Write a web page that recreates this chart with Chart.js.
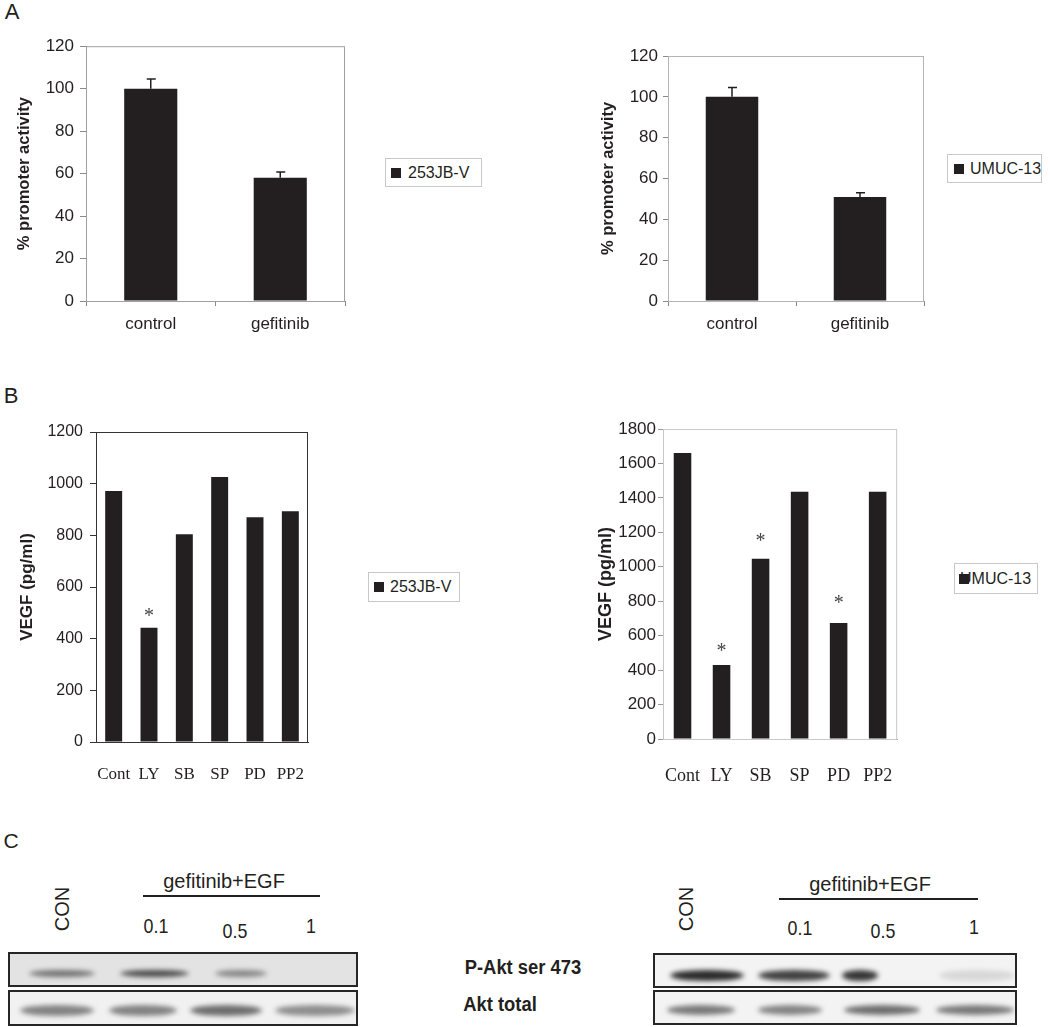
<!DOCTYPE html>
<html>
<head>
<meta charset="utf-8">
<script src="https://cdn.jsdelivr.net/npm/chart.js@4.4.1/dist/chart.umd.min.js"></script>
<style>
  body { margin: 0; background: #fff; font-family: "Liberation Sans", Arial, sans-serif; color: #231f20; }
  #page { position: relative; width: 1050px; height: 1027px; overflow: hidden; }
  canvas { position: absolute; }
  .txt { position: absolute; white-space: nowrap; line-height: 1; transform: translate(-50%, -50%); }
  .legend { position: absolute; border: 1px solid #c8c8c8; background: #fff; box-sizing: border-box; }
  .legend .sw { position: absolute; width: 10px; height: 10px; background: #231f20; z-index: 2; }
  .legend .tx { position: absolute; white-space: nowrap; line-height: 1; font-size: 16px; transform: translateY(-50%); }
  .blot { position: absolute; border: 2px solid #262626; box-sizing: border-box; overflow: hidden; }
  .band { position: absolute; border-radius: 50%; filter: blur(2.5px); }
  .rule { position: absolute; height: 2px; background: #231f20; }
</style>
</head>
<body>
<div id="page"></div>
<script>
// ---- data ----
const promoterLabels = ['control', 'gefitinib'];
const promoter253 = [100, 58];
const promoter253Err = [4.6, 2.8];
const promoterUmuc = [100, 51];
const promoterUmucErr = [4.6, 2];
const promoterTicks = [0, 120, 20];

const inhibitorLabels = ['Cont', 'LY', 'SB', 'SP', 'PD', 'PP2'];
const vegf253 = [972, 442, 804, 1026, 870, 893];
const vegf253Star = [null, 505, null, null, null, null];
const vegf253Ticks = [0, 1200, 200];
const vegfUmuc = [1660, 430, 1047, 1436, 674, 1436];
const vegfUmucStar = [null, 534, 1173, null, 813, null];
const vegfUmucTicks = [0, 1800, 200];

// western blot band intensities (0..1), lanes CON, 0.1, 0.5, 1
const doseLabels = ['0.1', '0.5', '1'];
const pAkt253 = [0.55, 0.75, 0.45, 0];
const akt253 = [0.5, 0.5, 0.6, 0.45];
const pAktUmuc = [0.9, 0.8, 0.85, 0.12];
const aktUmuc = [0.55, 0.5, 0.6, 0.55];

const ink = '#231f20';
const page = document.getElementById('page');

function addText(str, x, y, css) {
  const d = document.createElement('div');
  d.className = 'txt';
  d.textContent = str;
  d.style.left = x + 'px';
  d.style.top = y + 'px';
  Object.assign(d.style, css || {});
  page.appendChild(d);
  return d;
}

function addLegend(name, box, swX, txX) {
  const lg = document.createElement('div');
  lg.className = 'legend';
  Object.assign(lg.style, { left: box[0] + 'px', top: box[1] + 'px', width: box[2] + 'px', height: box[3] + 'px' });
  const tx = document.createElement('div');
  tx.className = 'tx';
  tx.textContent = name;
  tx.style.left = txX + 'px';
  tx.style.top = (box[3] / 2 - 1) + 'px';
  const sw = document.createElement('div');
  sw.className = 'sw';
  sw.style.left = swX + 'px';
  sw.style.top = (box[3] / 2 - 6) + 'px';
  lg.appendChild(tx);
  lg.appendChild(sw);
  page.appendChild(lg);
}

// error bars, stars and the plot frame
const extras = {
  id: 'extras',
  beforeDatasetsDraw(chart, args, opts) {
    const a = chart.chartArea, ctx = chart.ctx;
    ctx.save();
    ctx.strokeStyle = opts.frame;
    ctx.lineWidth = 1;
    ctx.strokeRect(a.left + 0.5, a.top + 0.5, a.right - a.left - 1, a.bottom - a.top);
    ctx.restore();
  },
  afterDatasetsDraw(chart, args, opts) {
    const ctx = chart.ctx, y = chart.scales.y;
    const meta = chart.getDatasetMeta(0);
    const vals = chart.data.datasets[0].data;
    ctx.save();
    if (opts.errors) {
      ctx.strokeStyle = ink;
      ctx.lineWidth = 1.5;
      opts.errors.forEach((e, i) => {
        const bar = meta.data[i];
        const top = y.getPixelForValue(vals[i] + e);
        ctx.beginPath();
        ctx.moveTo(bar.x, bar.y);
        ctx.lineTo(bar.x, top);
        ctx.moveTo(bar.x - 4, top);
        ctx.lineTo(bar.x + 5, top);
        ctx.stroke();
      });
    }
    if (opts.stars) {
      ctx.fillStyle = '#444';
      ctx.font = '20px "Liberation Serif"';
      ctx.textAlign = 'center';
      ctx.textBaseline = 'alphabetic';
      opts.stars.forEach((s, i) => {
        if (s == null) return;
        ctx.fillText('*', meta.data[i].x, y.getPixelForValue(s) + 10);
      });
    }
    ctx.restore();
  }
};

function makeChart(L) {
  const c = document.createElement('canvas');
  c.width = L.w; c.height = L.h;
  c.style.left = L.left + 'px';
  c.style.top = L.top + 'px';
  page.appendChild(c);
  return new Chart(c, {
    type: 'bar',
    data: {
      labels: L.labels,
      datasets: [{
        data: L.values,
        backgroundColor: ink,
        borderWidth: 0,
        barPercentage: L.barPct,
        categoryPercentage: 1
      }]
    },
    options: {
      responsive: false,
      animation: false,
      layout: { padding: { top: L.padTop, right: L.padRight, left: 0, bottom: 0 } },
      plugins: {
        legend: { display: false },
        tooltip: { enabled: false },
        extras: { errors: L.errors, stars: L.stars, frame: L.frame }
      },
      scales: {
        x: {
          offset: true,
          grid: { drawOnChartArea: false, drawTicks: L.xTicks, tickLength: 5, offset: true, color: L.axis },
          border: { color: L.axis },
          ticks: { color: ink, font: L.xFont, padding: L.xPad, maxRotation: 0, autoSkip: false },
          afterFit: s => { s.height = L.xHeight; }
        },
        y: {
          min: L.ticks[0], max: L.ticks[1],
          ticks: { stepSize: L.ticks[2], color: ink, font: L.yFont, padding: L.yPad, callback: v => String(v) },
          grid: { drawOnChartArea: false, tickLength: L.yTickLen, color: L.axis },
          border: { color: L.axis },
          title: {
            display: true, text: L.yTitle, color: ink,
            font: { family: '"Liberation Sans"', size: L.titleSize, weight: 'bold' },
            padding: { top: L.titlePad, bottom: 0 }
          },
          afterFit: s => { s.width = L.yWidth; }
        }
      }
    },
    plugins: [extras]
  });
}

const sans17 = { family: '"Liberation Sans"', size: 17 };
const serif17 = { family: '"Liberation Serif"', size: 17 };
const serif18 = { family: '"Liberation Serif"', size: 18 };

// ---- panel A ----
addText('A', 12, 12, { fontSize: '22px' });
makeChart({
  left: 0, top: 30, w: 360, h: 310, padTop: 13, padRight: 15, yWidth: 86, xHeight: 39,
  labels: promoterLabels, values: promoter253, errors: promoter253Err, ticks: promoterTicks,
  barPct: 0.41, axis: '#8a8a8a', frame: '#a0a0a0', xTicks: true, xFont: sans17, xPad: 8,
  yFont: sans17, yPad: 6, yTickLen: 6, yTitle: '% promoter activity', titleSize: 16.5, titlePad: 15
});
addLegend('253JB-V', [385, 158, 97, 29], 5, 22);

makeChart({
  left: 560, top: 30, w: 380, h: 310, padTop: 26, padRight: 16, yWidth: 108, xHeight: 39,
  labels: promoterLabels, values: promoterUmuc, errors: promoterUmucErr, ticks: promoterTicks,
  barPct: 0.41, axis: '#8a8a8a', frame: '#b4b4b4', xTicks: true, xFont: sans17, xPad: 8,
  yFont: sans17, yPad: 5, yTickLen: 5, yTitle: '% promoter activity', titleSize: 16.5, titlePad: 39
});
addLegend('UMUC-13', [947, 154, 95, 29], 6, 22);

// ---- panel B ----
addText('B', 11, 396, { fontSize: '22px' });
makeChart({
  left: 0, top: 410, w: 330, h: 380, padTop: 22, padRight: 22, yWidth: 96, xHeight: 48,
  labels: inhibitorLabels, values: vegf253, stars: vegf253Star, ticks: vegf253Ticks,
  barPct: 0.48, axis: '#333', frame: '#333', xTicks: false, xFont: serif17, xPad: 22,
  yFont: { family: '"Liberation Sans"', size: 16 }, yPad: 7, yTickLen: 6,
  yTitle: 'VEGF (pg/ml)', titleSize: 17, titlePad: 17
});
addLegend('253JB-V', [368, 572, 92, 30], 5, 21);

makeChart({
  left: 560, top: 410, w: 360, h: 380, padTop: 19, padRight: 22, yWidth: 103, xHeight: 51,
  labels: inhibitorLabels, values: vegfUmuc, stars: vegfUmucStar, ticks: vegfUmucTicks,
  barPct: 0.45, axis: '#999', frame: '#c8c8c8', xTicks: false, xFont: serif18, xPad: 26,
  yFont: { family: '"Liberation Sans"', size: 17 }, yPad: 2, yTickLen: 5,
  yTitle: 'VEGF (pg/ml)', titleSize: 18, titlePad: 35
});
addLegend('UMUC-13', [954, 563, 84, 31], 4, 5);

// ---- panel C: western blots ----
addText('C', 11, 840, { fontSize: '21px' });

function addBlot(box, bg, lanes, levels, bandY, bandH) {
  const b = document.createElement('div');
  b.className = 'blot';
  Object.assign(b.style, { left: box[0] + 'px', top: box[1] + 'px', width: box[2] + 'px', height: box[3] + 'px', background: bg });
  levels.forEach((v, i) => {
    if (!v) return;
    const band = document.createElement('div');
    band.className = 'band';
    const [cx, w] = lanes[i];
    Object.assign(band.style, {
      left: (cx - w / 2 - box[0]) + 'px', width: w + 'px',
      top: (bandY - bandH / 2 - box[1]) + 'px', height: bandH + 'px',
      background: 'rgba(20,20,20,' + v + ')'
    });
    b.appendChild(band);
  });
  page.appendChild(b);
}

function addDoseHeader(conX, textX, rule, doseXs, doseYs) {
  addText('CON', conX, 909, { fontSize: '20px', transform: 'translate(-50%, -50%) rotate(-90deg)' });
  addText('gefitinib+EGF', textX, rule[2] - 15, { fontSize: '20px' });
  const r = document.createElement('div');
  r.className = 'rule';
  Object.assign(r.style, { left: rule[0] + 'px', width: (rule[1] - rule[0]) + 'px', top: (rule[2] - 1) + 'px' });
  page.appendChild(r);
  doseLabels.forEach((d, i) => addText(d, doseXs[i], doseYs[i], { fontSize: '21px', transform: 'translate(-50%, -50%) scaleX(0.85)' }));
}

addDoseHeader(62, 224, [143, 320, 896], [156, 235, 311], [925, 930, 925]);
addDoseHeader(686, 870, [779, 978, 899], [800, 883, 974], [927, 930, 926]);

addBlot([8, 952, 350, 35], '#e3e3e3', [[60, 66], [152, 69], [239, 52], [312, 70]], pAkt253, 971, 7);
addBlot([8, 990, 350, 36], '#f1f1f1', [[55, 74], [141, 68], [224, 72], [313, 80]], akt253, 1008, 11);
addBlot([653, 953, 364, 35], '#f3f3f3', [[705, 74], [792, 72], [858, 36], [975, 76]], pAktUmuc, 973, 11);
addBlot([653, 990, 364, 35], '#f3f3f3', [[699, 68], [788, 64], [880, 76], [973, 78]], aktUmuc, 1008, 10);

addText('P-Akt ser 473', 523, 967, { fontSize: '20px', fontWeight: 'bold', transform: 'translate(-50%, -50%) scaleX(0.92)' });
addText('Akt total', 500, 1004, { fontSize: '20px', fontWeight: 'bold', transform: 'translate(-50%, -50%) scaleX(0.92)' });
</script>
</body>
</html>
